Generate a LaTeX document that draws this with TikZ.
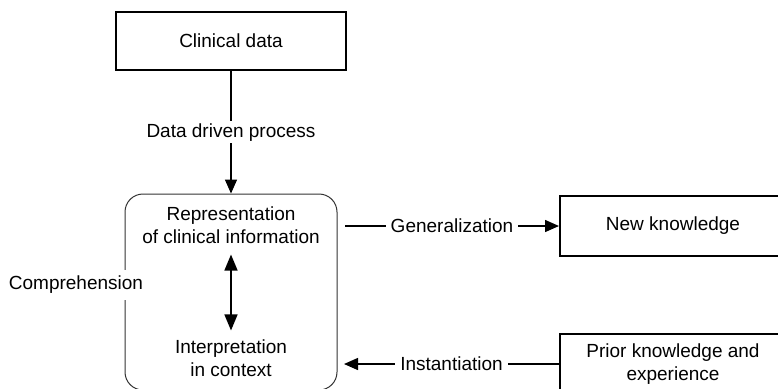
\documentclass[tikz,border=0pt]{standalone}
\usepackage{fontspec}
\setmainfont{Liberation Sans}
\usetikzlibrary{arrows.meta, positioning, calc}
\tikzset{
    box/.style={rectangle, draw, line width=1pt, minimum width=113pt, minimum height=30pt},
    lbl/.style={fill=white, inner xsep=2.5pt, inner ysep=1pt},
    arr/.style={line width=0.75pt, -{Triangle[length=7pt, width=6pt]}},
    dblarr/.style={line width=0.75pt, {Triangle[length=8pt, width=6.5pt]}-{Triangle[length=8pt, width=6.5pt]}},
}
\begin{document}
\begin{tikzpicture}[x=0.5pt, y=-0.5pt, font=\fontsize{9.5}{11.5}\selectfont]
    \useasboundingbox (0,0) rectangle (778,388);
    \clip (0,0) rectangle (778,388);

    \node[rectangle, draw=black!80, line width=0.5pt, rounded corners=9pt, minimum width=106pt, minimum height=98pt] (comp) at (231,292) {};
    \node[box, minimum width=115pt, minimum height=29pt] (clin) at (231,41) {Clinical data};
    \node[align=center] (rep) at (231,225) {Representation\\of clinical information};
    \node[align=center] (interp) at (231,358) {Interpretation\\in context};
    \node[fill=white, inner sep=3pt] (compre) at (76,285) {Comprehension};
    \node[box] (newk) at (673,226) {New knowledge};
    \node[box, align=center] (prior) at (673,364) {Prior knowledge and\\experience};
    \coordinate (g0) at (345,226);
    \coordinate (i0) at (344,364);

    \draw[arr] (clin) -- node[lbl] {Data driven process} (comp);
    \draw[dblarr, shorten <=2pt, shorten >=1pt] (rep) -- (interp);
    \draw[arr] (g0) -- node[lbl] {Generalization} (newk);
    \draw[arr] (prior) -- node[lbl] {Instantiation} (i0);
\end{tikzpicture}
\end{document}
